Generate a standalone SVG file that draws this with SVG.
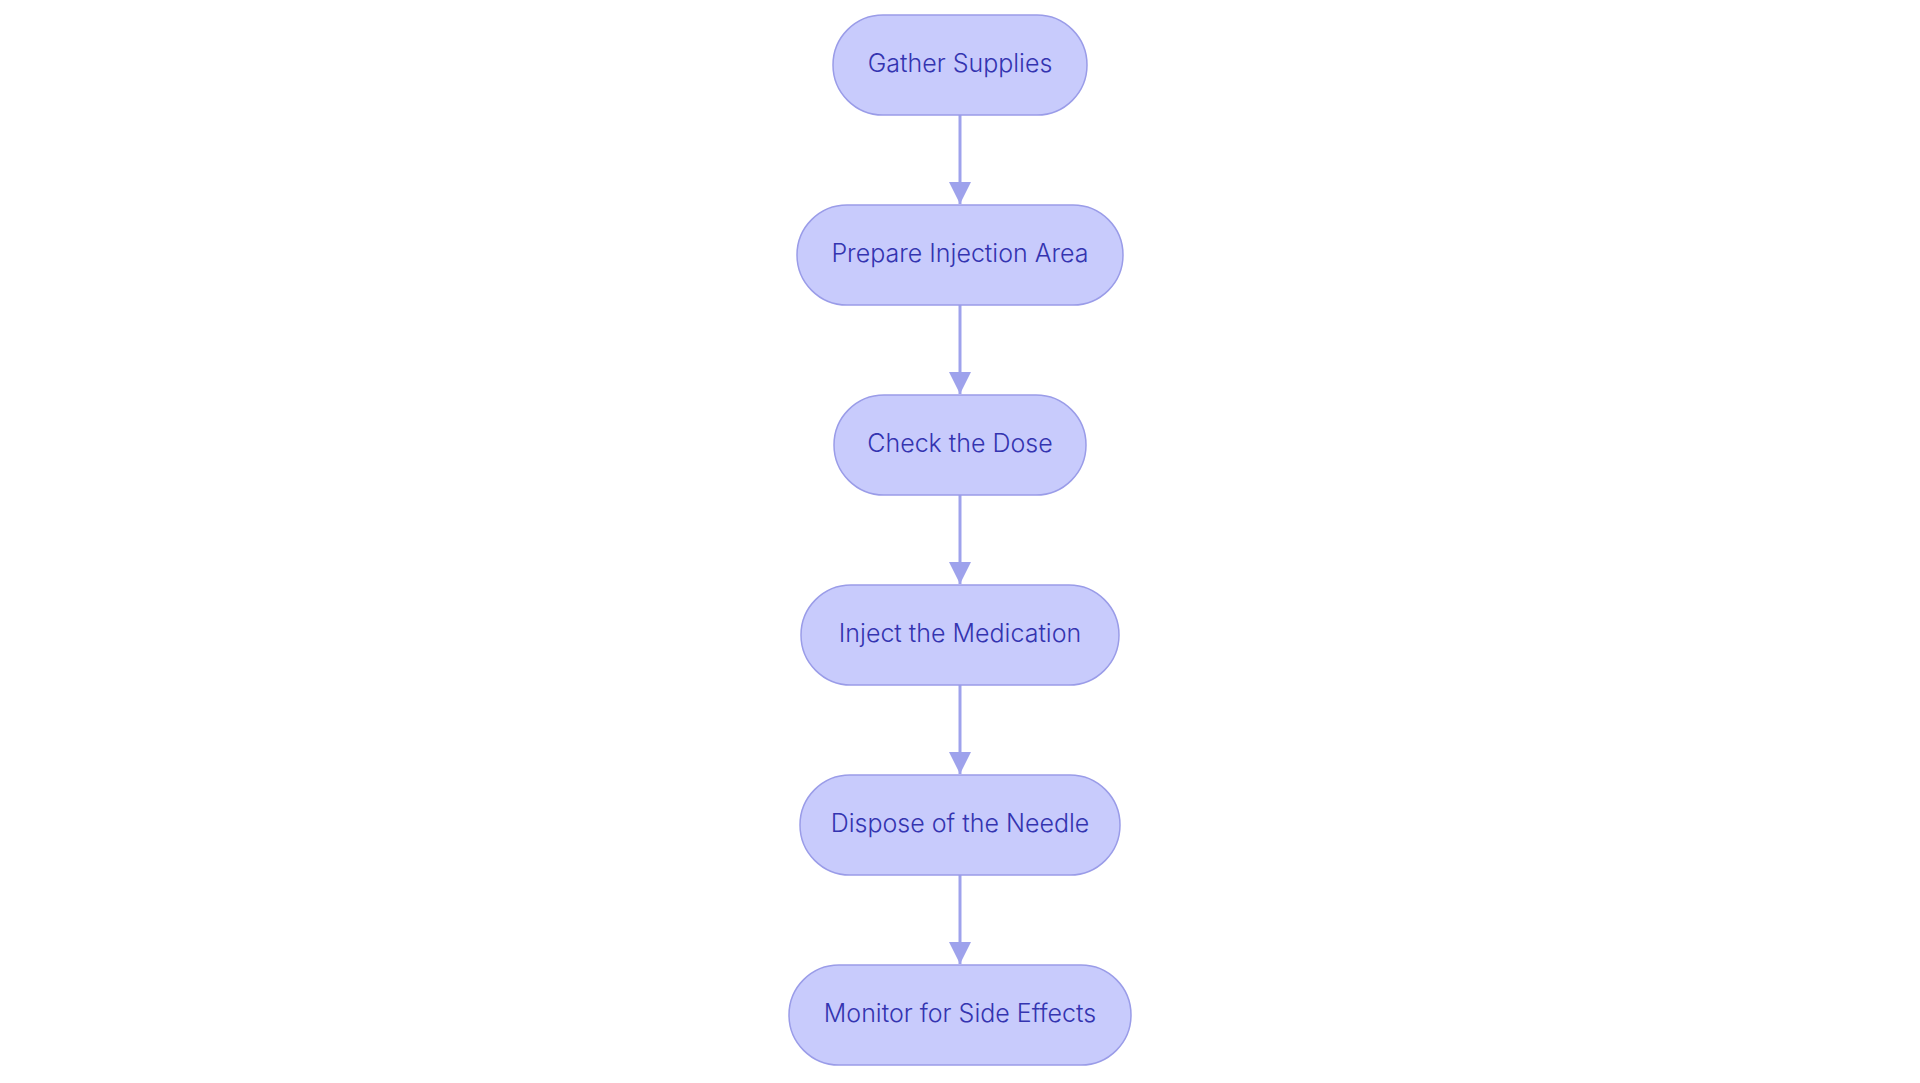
<svg xmlns="http://www.w3.org/2000/svg" width="1920" height="1083" viewBox="0 0 1920 1083">
<style>
.n rect{fill:#c8cbfc;stroke:#9a9ce8;stroke-width:1.5}
.n text{font-family:Inter,"Noto Sans",sans-serif;font-size:25px;font-weight:300;fill:#3434b0;text-anchor:middle;dominant-baseline:central}
.c line{stroke:#9ea2ec;stroke-width:3}
</style>
<defs><marker id="a" markerWidth="22" markerHeight="22" refX="22" refY="11" orient="auto" markerUnits="userSpaceOnUse" viewBox="0 0 22 22"><path d="M0,0L22,11L0,22z" fill="#9ea2ec"/></marker></defs>
<rect width="1920" height="1083" fill="#fff"/>
<g class="c">
<line x1="960" y1="115" x2="960" y2="204" marker-end="url(#a)"/>
<line x1="960" y1="305" x2="960" y2="394" marker-end="url(#a)"/>
<line x1="960" y1="495" x2="960" y2="584" marker-end="url(#a)"/>
<line x1="960" y1="685" x2="960" y2="774" marker-end="url(#a)"/>
<line x1="960" y1="875" x2="960" y2="964" marker-end="url(#a)"/>
</g>
<g id="n1" class="n"><rect x="833" y="15" width="254" height="100" rx="50"/><text x="960" y="63">Gather Supplies</text></g>
<g id="n2" class="n"><rect x="797" y="205" width="326" height="100" rx="50"/><text x="960" y="253">Prepare Injection Area</text></g>
<g id="n3" class="n"><rect x="834" y="395" width="252" height="100" rx="50"/><text x="960" y="443">Check the Dose</text></g>
<g id="n4" class="n"><rect x="801" y="585" width="318" height="100" rx="50"/><text x="960" y="633">Inject the Medication</text></g>
<g id="n5" class="n"><rect x="800" y="775" width="320" height="100" rx="50"/><text x="960" y="823">Dispose of the Needle</text></g>
<g id="n6" class="n"><rect x="789" y="965" width="342" height="100" rx="50"/><text x="960" y="1013">Monitor for Side Effects</text></g>
</svg>
